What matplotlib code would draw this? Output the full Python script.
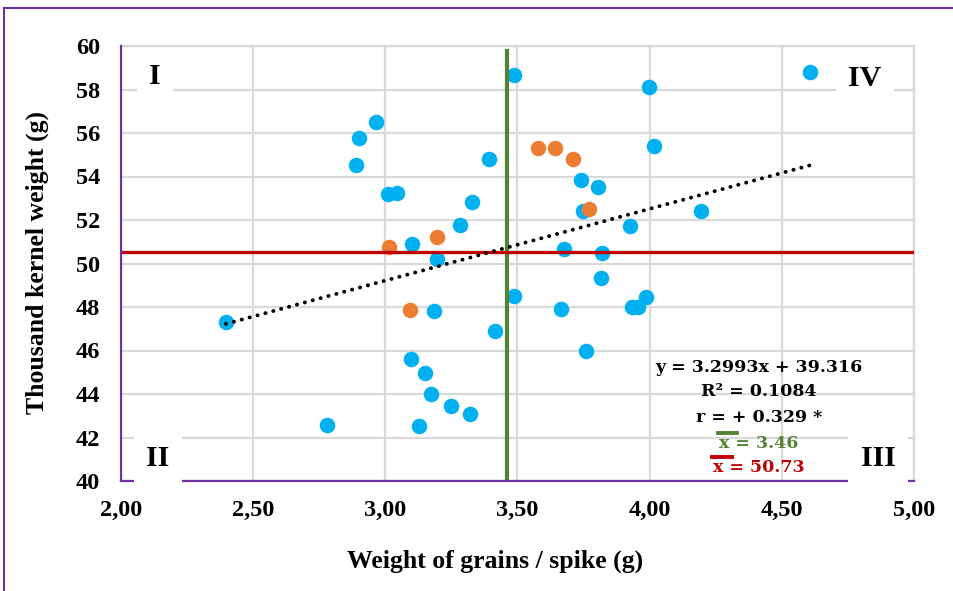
import matplotlib
matplotlib.use("Agg")
import matplotlib.pyplot as plt
from matplotlib.lines import Line2D
import numpy as np

# ---------------- data ----------------
blue_x = [2.397, 2.778, 2.888, 2.900, 2.965, 3.011, 3.043, 3.100, 3.195, 3.184,
          3.098, 3.151, 3.171, 3.129, 3.250, 3.321, 3.282, 3.326, 3.392, 3.416,
          3.486, 3.487, 3.677, 3.663, 3.742, 3.747, 3.760, 3.805, 3.820, 3.815,
          3.926, 3.935, 3.954, 3.988, 3.997, 4.017, 4.194, 4.607]
blue_y = [47.31, 42.57, 54.54, 55.76, 56.49, 53.18, 53.24, 50.91, 50.21, 47.80,
          45.61, 44.98, 43.99, 42.54, 43.45, 43.08, 51.77, 52.83, 54.79, 46.91,
          58.65, 48.51, 50.67, 47.90, 53.84, 52.40, 45.99, 53.50, 50.50, 49.33,
          51.72, 48.01, 48.01, 48.45, 58.10, 55.40, 52.43, 58.80]
orange_x = [3.578, 3.640, 3.709, 3.772, 3.014, 3.196, 3.094]
orange_y = [55.30, 55.33, 54.79, 52.49, 50.74, 51.20, 47.85]

slope, intercept = 3.2993, 39.316
mean_x = 3.46
mean_y_line = 50.55
eq_lines = ["y = 3.2993x + 39.316", "R\u00b2 = 0.1084", "r = + 0.329 *"]
mean_x_label = "x = 3.46"
mean_y_label = "x = 50.73"

x_ticks = [2.0, 2.5, 3.0, 3.5, 4.0, 4.5, 5.0]
x_ticklabels = ["2,00", "2,50", "3,00", "3,50", "4,00", "4,50", "5,00"]
y_ticks = [40, 42, 44, 46, 48, 50, 52, 54, 56, 58, 60]
quadrants = ["I", "II", "III", "IV"]

# ---------------- styling ----------------
BLUE = "#00B0F0"
ORANGE = "#ED7D31"
GREEN = "#548235"
RED = "#C00000"
PURPLE = "#7030A0"
GRID = "#D9D9D9"
SERIF = ["Liberation Serif", "DejaVu Serif"]
EQF = ["DejaVu Serif"]

W, H = 954, 591
fig = plt.figure(figsize=(W / 100, H / 100), dpi=100)
fig.patch.set_facecolor("white")

def fx(px):
    return px / W

def fy(py):
    return 1 - py / H

ax = fig.add_axes([fx(121), fy(481), fx(914) - fx(121), fy(46) - fy(481)])
ax.set_xlim(2.0, 5.0)
ax.set_ylim(40, 60)
ax.set_xticks(x_ticks)
ax.set_xticklabels(x_ticklabels)
ax.set_yticks(y_ticks)
ax.tick_params(axis="y", length=0, pad=15)
ax.tick_params(axis="x", length=0, pad=14)
for lab in ax.get_xticklabels() + ax.get_yticklabels():
    lab.set_fontfamily(SERIF)
    lab.set_fontweight("bold")
    lab.set_fontsize(17.5)
ax.grid(True, color=GRID, lw=1.6, zorder=0)
ax.set_axisbelow(True)
for s in ["top", "right"]:
    ax.spines[s].set_color(GRID)
    ax.spines[s].set_linewidth(1.6)
for s in ["left", "bottom"]:
    ax.spines[s].set_color(PURPLE)
    ax.spines[s].set_linewidth(1.6)
    ax.spines[s].set_zorder(6)

# points
ax.scatter(blue_x, blue_y, s=125, color=BLUE, zorder=3, linewidths=0)
ax.scatter(orange_x, orange_y, s=125, color=ORANGE, zorder=3, linewidths=0)

# trendline
allx = np.array(blue_x + orange_x)
tx = np.array([allx.min(), allx.max()])
ax.plot(tx, slope * tx + intercept, color="black", lw=2.8,
        linestyle=(0, (0.05, 2.05)), dash_capstyle="round", zorder=5)

# mean lines
ax.plot([mean_x, mean_x], [40, 59.85], color=GREEN, lw=3.0, zorder=4,
        solid_capstyle="butt")
ax.plot([2.0, 5.0], [mean_y_line, mean_y_line], color=RED, lw=2.4, zorder=4,
        solid_capstyle="butt")

# quadrant labels
qpos = [(155, 77), (158, 458), (878, 458), (865, 78)]
for q, (px, py) in zip(quadrants, qpos):
    fig.text(fx(px), fy(py), q, ha="center", va="center", fontsize=21.5,
             fontweight="bold", family=SERIF, zorder=10,
             bbox=dict(facecolor="white", edgecolor="none", pad=9))

# equation text
eq_y = [367, 392, 418]
for t, py in zip(eq_y and eq_lines, eq_y):
    fig.text(fx(759), fy(py), t, ha="center", va="center", fontsize=12.5,
             fontweight="bold", family=EQF, color="black")
fig.text(fx(759), fy(444), mean_x_label, ha="center", va="center", fontsize=12.5,
         fontweight="bold", family=EQF, color=GREEN)
fig.text(fx(759), fy(467), mean_y_label, ha="center", va="center", fontsize=12.5,
         fontweight="bold", family=EQF, color=RED)
# overbars
fig.add_artist(Line2D([fx(718), fx(737)], [fy(433), fy(433)], color=GREEN, lw=2.8))
fig.add_artist(Line2D([fx(712), fx(732)], [fy(457), fy(457)], color=RED, lw=2.8))

# axis labels
fig.text(fx(495), fy(561), "Weight of grains / spike (g)", ha="center", va="center",
         fontsize=18.5, fontweight="bold", family=SERIF)
fig.text(fx(37), fy(263), "Thousand kernel weight (g)", ha="center", va="center",
         rotation=90, fontsize=18.5, fontweight="bold", family=SERIF)

# outer purple frame (left and top visible)
fig.add_artist(Line2D([fx(4), fx(4)], [fy(8), 0], color=PURPLE, lw=1.5))
fig.add_artist(Line2D([fx(4), 1], [fy(8), fy(8)], color=PURPLE, lw=1.5))

fig.savefig("out.png", dpi=100, facecolor="white")
